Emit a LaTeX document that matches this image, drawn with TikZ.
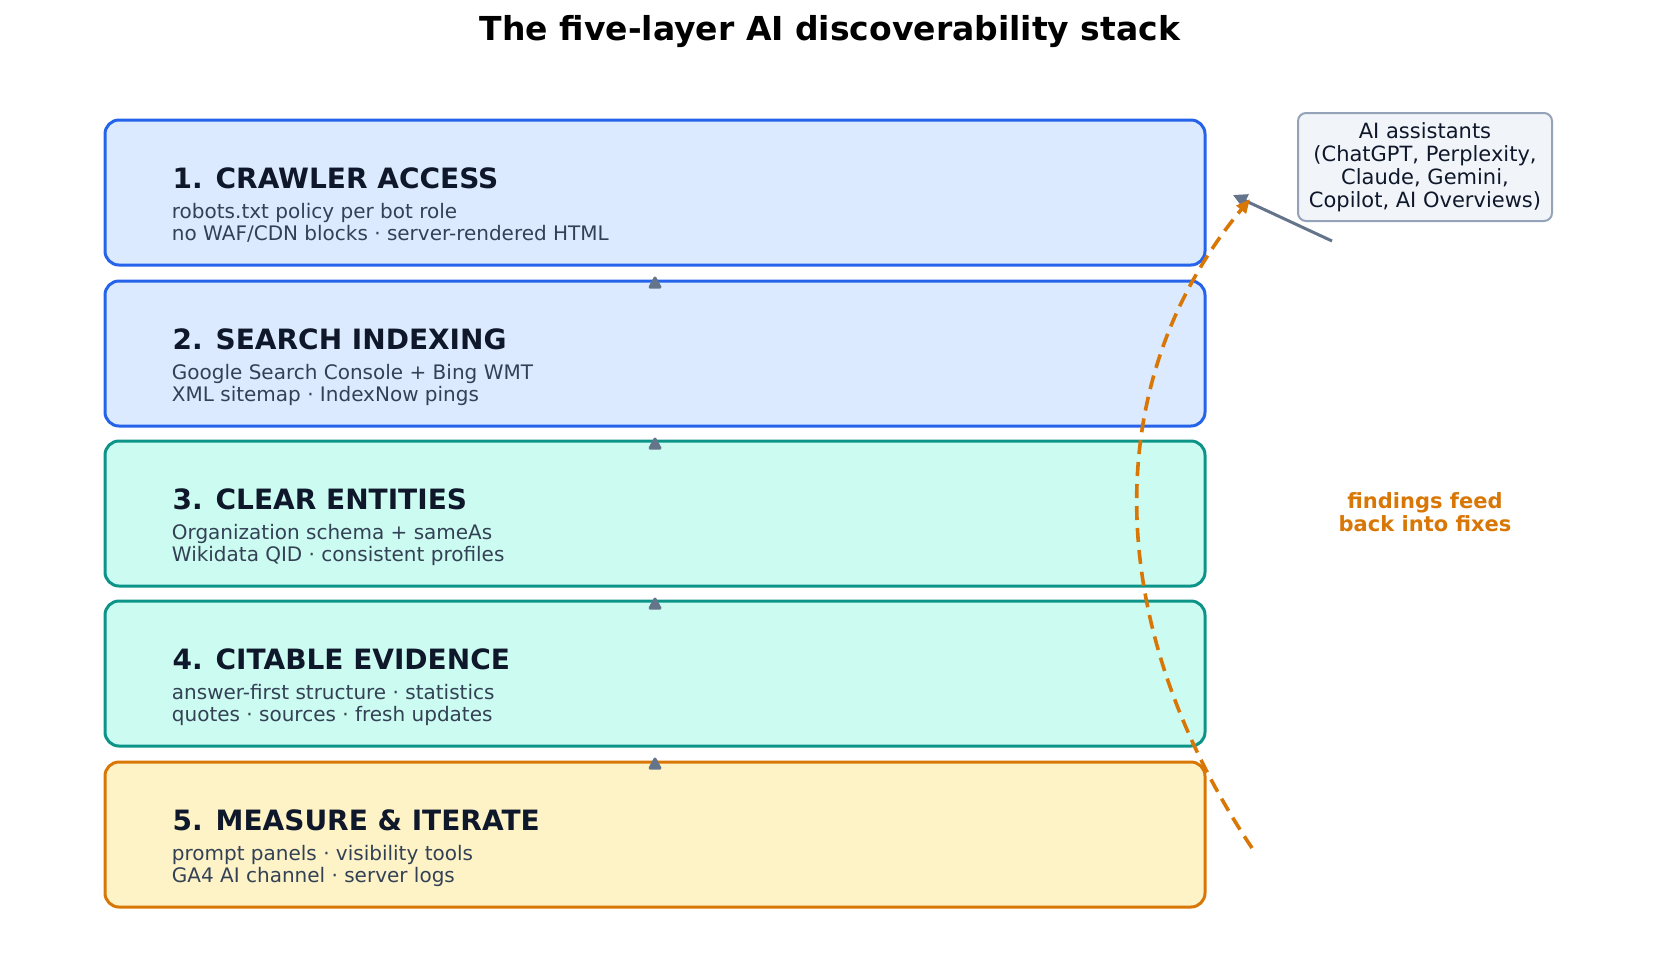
\documentclass[tikz,border=0pt]{standalone}
\usepackage{fontspec}
\setmainfont{DejaVu Sans}
\usetikzlibrary{arrows.meta}
\definecolor{bB}{HTML}{2563EB}\definecolor{bF}{HTML}{DBEAFE}
\definecolor{tB}{HTML}{0D9488}\definecolor{tF}{HTML}{CCFBF1}
\definecolor{oB}{HTML}{D97706}\definecolor{oF}{HTML}{FEF3C7}
\definecolor{ink}{HTML}{0F172A}\definecolor{sub}{HTML}{334155}
\definecolor{gr}{HTML}{64748B}\definecolor{aiB}{HTML}{94A3B8}\definecolor{aiF}{HTML}{F1F5F9}
\begin{document}
\begin{tikzpicture}[x=0.5pt,y=-0.5pt,
 layer/.style={draw=#1,line width=1.5pt,rounded corners=7pt,minimum width=550pt,minimum height=72.5pt,inner sep=0pt},
 ttl/.style={anchor=west,font=\fontsize{14}{16}\selectfont\bfseries,text=ink},
 sb/.style={anchor=north west,align=left,font=\fontsize{10}{11.2}\selectfont,text=sub,inner sep=0pt},
 up/.style={-{Triangle[length=7pt,width=7pt,round]},gr,line width=1.5pt,shorten >=5pt}]
\useasboundingbox (0,0) rectangle (1659,971);
\node[font=\fontsize{16.5}{20}\selectfont\bfseries] (title) at (830,32) {The five-layer AI discoverability stack};
\node[layer=bB,fill=bF] (b1) at (655,192.5) {};
\node[layer=bB,fill=bF] (b2) at (655,353.5) {};
\node[layer=tB,fill=tF] (b3) at (655,513.5) {};
\node[layer=tB,fill=tF] (b4) at (655,673.5) {};
\node[layer=oB,fill=oF] (b5) at (655,834.5) {};
\foreach \i/\t/\a/\b in {1/{1. CRAWLER ACCESS}/{robots.txt policy per bot role}/{no WAF{/}CDN blocks · server-rendered HTML},
 2/{2. SEARCH INDEXING}/{Google Search Console + Bing WMT}/{XML sitemap · IndexNow pings},
 3/{3. CLEAR ENTITIES}/{Organization schema + sameAs}/{Wikidata QID · consistent profiles},
 4/{4. CITABLE EVIDENCE}/{answer-first structure · statistics}/{quotes · sources · fresh updates},
 5/{5. MEASURE \& ITERATE}/{prompt panels · visibility tools}/{GA4 AI channel · server logs}}{
 \node[ttl] (t\i) at ([xshift=31pt,yshift=7pt]b\i.west) {\t};
 \node[sb] (s\i) at ([xshift=34pt,yshift=-5pt]b\i.west) {\a\\\b};
}
\draw[up] (b2.north) -- (b1.south);
\draw[up] (b3.north) -- (b2.south);
\draw[up] (b4.north) -- (b3.south);
\draw[up] (b5.north) -- (b4.south);
\node[draw=aiB,fill=aiF,line width=1pt,rounded corners=4pt,align=center,text=ink,
 font=\fontsize{10.5}{11.5}\selectfont,minimum width=127pt,minimum height=54pt,inner sep=2pt] (ai) at (1425,167)
 {AI assistants\\(ChatGPT, Perplexity,\\Claude, Gemini,\\Copilot, AI Overviews)};
\coordinate (g0) at (1332,241);
\coordinate (g1) at (1233,195);
\draw[gr,line width=1.5pt,-{Triangle[length=7pt,width=7pt]}] (g0) -- (g1);
\coordinate (c0) at (1252,848);
\coordinate (c1) at (1250,199);
\draw[oB,line width=1.8pt,dash pattern=on 7pt off 4pt,-{Triangle[length=7pt,width=6pt]}] (c0) .. controls (1100,620) and (1100,380) .. (c1);
\node[oB,font=\fontsize{10.5}{11.5}\selectfont\bfseries,align=center] (fb) at (1425,512) {findings feed\\back into fixes};
\end{tikzpicture}
\end{document}
